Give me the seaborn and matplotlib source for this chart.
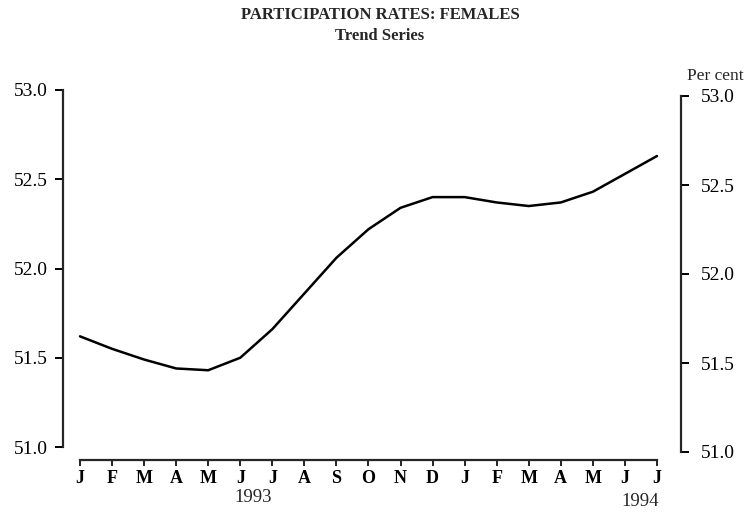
import numpy as np
import pandas as pd
import matplotlib
matplotlib.use("Agg")
import matplotlib.pyplot as plt
import seaborn as sns

# Data (monthly trend, Jan 1993 - Jul 1994)
months = ["J", "F", "M", "A", "M", "J", "J", "A", "S", "O", "N", "D",
          "J", "F", "M", "A", "M", "J", "J"]
rates = [51.62, 51.55, 51.49, 51.44, 51.43, 51.50, 51.66, 51.86, 52.06,
         52.22, 52.34, 52.40, 52.40, 52.37, 52.35, 52.37, 52.43, 52.53, 52.63]
y_ticks = [51.0, 51.5, 52.0, 52.5, 53.0]
y_labels = ["51.0", "51.5", "52.0", "52.5", "53.0"]
years = ["1993", "1994"]

df = pd.DataFrame({"idx": np.arange(len(rates)), "rate": rates})

sns.set_theme(style="white")
plt.rcParams["font.family"] = ["Liberation Serif", "DejaVu Serif"]
plt.rcParams["axes.linewidth"] = 1.6

fig = plt.figure(figsize=(7.55, 5.15), dpi=100)
W, H = 755, 515

def box(l, t, r, b):
    return [l / W, 1 - b / H, (r - l) / W, (b - t) / H]

xlim = (-0.53, 18.75)

# main axes: left axis + bottom month axis
ax = fig.add_axes(box(63, 90, 681, 447))
sns.lineplot(data=df, x="idx", y="rate", ax=ax, color="black", linewidth=1.8)
ax.set_xlim(*xlim)
ax.set_ylim(51.0, 53.0)
ax.set_xlabel("")
ax.set_ylabel("")
for s in ["top", "right"]:
    ax.spines[s].set_visible(False)
ax.spines["left"].set_bounds(51.0, 53.0)
ax.spines["bottom"].set_position(("outward", 9.5))
ax.spines["bottom"].set_bounds(0, len(months) - 1)
ax.set_yticks(y_ticks)
ax.set_yticklabels(y_labels, fontsize=14)
ax.set_xticks(np.arange(len(months)))
ax.set_xticklabels(months, fontsize=13, fontweight="bold")
ax.tick_params(axis="y", left=True, direction="out", length=6, width=1.4, pad=5, colors="black")
ax.tick_params(axis="x", bottom=True, direction="out", length=4, width=1.2, pad=3, colors="black")
ax.grid(False)

# right axis, drawn slightly lower as in the scanned original
ax2 = fig.add_axes(box(63, 96, 681, 452), facecolor="none")
ax2.set_xlim(*xlim)
ax2.set_ylim(51.0, 53.0)
for s in ["top", "left", "bottom"]:
    ax2.spines[s].set_visible(False)
ax2.spines["right"].set_bounds(51.0, 53.0)
ax2.set_xticks([])
ax2.yaxis.tick_right()
ax2.set_yticks(y_ticks)
ax2.set_yticklabels(y_labels, fontsize=14)
ax2.tick_params(axis="y", right=True, direction="out", length=6, width=1.4, pad=8, colors="black")
ax2.grid(False)

fig.text(715 / W, 1 - 76 / H, "Per cent", ha="center", va="center", fontsize=12.5)

# titles
fig.text(380 / W, 1 - 15 / H, "PARTICIPATION RATES: FEMALES", ha="center",
         va="center", fontsize=12, fontweight="bold")
fig.text(380 / W, 1 - 36 / H, "Trend Series", ha="center", va="center",
         fontsize=12, fontweight="bold")

# year labels under the month axis
trans = matplotlib.transforms.blended_transform_factory(ax.transData, fig.transFigure)
ax.text(5.4, 1 - 497 / H, years[0], transform=trans, ha="center", va="center", fontsize=13.5)
ax.text(18.05, 1 - 501 / H, years[1], transform=trans, ha="right", va="center", fontsize=13.5)

fig.savefig("out.png", dpi=100, facecolor="white")
